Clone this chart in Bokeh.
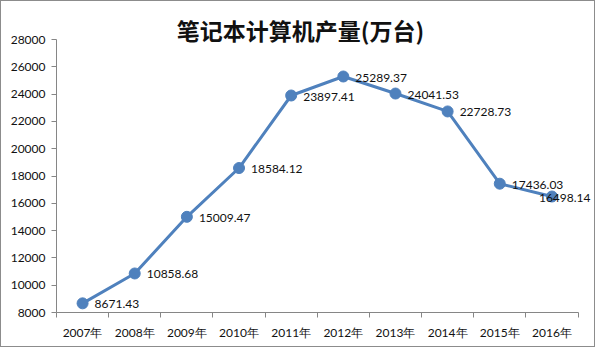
from bokeh.plotting import figure
from bokeh.models import Range1d, FixedTicker, Label, LabelSet, ColumnDataSource
from bokeh.core.properties import value
from bokeh.embed import file_html
from bokeh.resources import INLINE

years = ["2007年", "2008年", "2009年", "2010年", "2011年",
         "2012年", "2013年", "2014年", "2015年", "2016年"]
output = [8671.43, 10858.68, 15009.47, 18584.12, 23897.41,
          25289.37, 24041.53, 22728.73, 17436.03, 16498.14]
y_ticks = [8000, 10000, 12000, 14000, 16000, 18000, 20000, 22000, 24000, 26000, 28000]
title_text = "笔记本计算机产量(万台)"

# ---- layout (pixels) ----
W, H = 595, 347
left, right, top, bottom = 55, 1, 1, 36          # frame borders
frame_w = W - left - right
frame_h = H - top - bottom
axis_top_px = 38                                  # pixel row of the top y tick
cat_px = 52.15                                    # width of one category

n = len(years)
y0, y1 = y_ticks[0], y_ticks[-1]
y_per_px = (y1 - y0) / (H - bottom - axis_top_px)
y_end = y0 + frame_h * y_per_px
x_end = frame_w / cat_px

xs = [i + 0.5 for i in range(n)]
label_dx = [12] * (n - 1) + [-13]
label_txt = ["%.2f" % v for v in output]

src = ColumnDataSource(dict(x=xs, y=output, t=label_txt, dx=label_dx))

p = figure(width=W, height=H, output_backend="svg", toolbar_location=None,
           x_range=Range1d(0, x_end), y_range=Range1d(y0, y_end),
           min_border_left=left, min_border_right=right,
           min_border_top=top, min_border_bottom=bottom)
p.styles = {"border": "1px solid #8c8c8c"}
p.outline_line_color = None
p.xgrid.grid_line_color = None
p.ygrid.grid_line_color = None
p.background_fill_color = "white"
p.border_fill_color = "white"

axis_col = "#868686"
font = "Lato"

xa = p.xaxis[0]
xa.bounds = (0, n)
xa.ticker = FixedTicker(ticks=xs, minor_ticks=list(range(n + 1)))
xa.major_label_overrides = {x: y for x, y in zip(xs, years)}
xa.major_tick_out = 0
xa.major_tick_in = 0
xa.minor_tick_out = 5
xa.minor_tick_in = 0
xa.minor_tick_line_color = axis_col
xa.axis_line_color = axis_col
xa.major_label_standoff = 7
xa.major_label_text_font = font
xa.major_label_text_font_size = "12px"
xa.major_label_text_color = "#111111"

ya = p.yaxis[0]
ya.bounds = (y0, y1)
ya.ticker = FixedTicker(ticks=y_ticks)
ya.major_tick_out = 5
ya.major_tick_in = 0
ya.minor_tick_out = 0
ya.minor_tick_in = 0
ya.major_tick_line_color = axis_col
ya.axis_line_color = axis_col
ya.major_label_standoff = 6
ya.major_label_text_font = font
ya.major_label_text_font_size = "12px"
ya.major_label_text_color = "#111111"

blue = "#4F81BD"
p.line("x", "y", source=src, line_color=blue, line_width=3)
p.scatter("x", "y", source=src, size=11, fill_color=blue, line_color=blue)

labels = LabelSet(x="x", y="y", text="t", source=src, x_offset="dx", y_offset=-1,
                  text_baseline="middle", text_align="left",
                  text_font=value(font), text_font_size=value("12px"),
                  text_color=value("#111111"))
p.add_layout(labels)

title = Label(x=299 - left, y=H - bottom - 28, x_units="screen", y_units="screen",
              text=title_text, text_align="center", text_baseline="middle",
              text_font="Noto Sans CJK SC", text_font_size="23px", text_font_style="bold",
              text_color="#111111")
p.add_layout(title)

open("out.html", "w").write(file_html(p, INLINE))
